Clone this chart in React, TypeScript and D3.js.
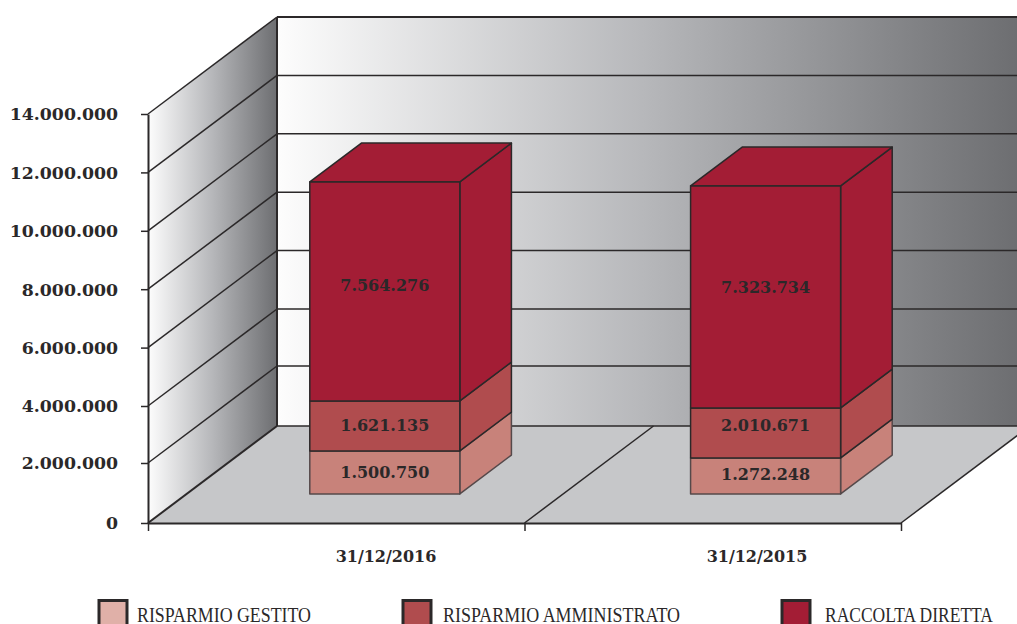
import * as d3 from 'd3';
import { useEffect, useRef } from 'react';

const categories = ['31/12/2016', '31/12/2015'];
const seriesNames = ['RISPARMIO GESTITO', 'RISPARMIO AMMINISTRATO', 'RACCOLTA DIRETTA'];

// bar heights as drawn in the picture (they do not follow the printed labels exactly)
const gestito = [1433000, 1200000];
const amministrato = [1725000, 1712000];
const diretta = [7520000, 7629000];

const gestitoLabels = ['1.500.750', '1.272.248'];
const amministratoLabels = ['1.621.135', '2.010.671'];
const direttaLabels = ['7.564.276', '7.323.734'];

const yTicks = [0, 2000000, 4000000, 6000000, 8000000, 10000000, 12000000, 14000000];

const barColors = ['#c8827a', '#b04c4e', '#a31d35'];
const swatchColors = ['#e0b0a8', '#b04c4e', '#a31d35'];
const ink = '#2b2829';
const numFont = '"DejaVu Serif", serif';
const legendFont = '"Liberation Serif", serif';

export default function App() {
  const ref = useRef<SVGSVGElement>(null);

  useEffect(() => {
    const svg = d3.select(ref.current);
    svg.selectAll('*').remove();

    // the lowest steps are not quite even in the original
    const y = d3.scaleLinear().domain([0, 2000000, 4000000, 14000000]).range([523, 463, 406, 114]);
    const xAxisScale = d3.scaleLinear().domain([0, 2]).range([148, 901]);
    const x = d3.scaleBand().domain(categories).range([150, 923]).paddingInner(0.606).paddingOuter(0.318);

    const depthX = 129, depthY = 97;
    // z = 0 front of the floor, z = 1 back wall
    const project = (px: number, py: number, z: number): [number, number] => [px + depthX * z, py - depthY * z];
    const poly = (pts: [number, number][]) => pts.map(p => p.join(',')).join(' ');

    const defs = svg.append('defs');
    const addGrad = (id: string, x1: number, x2: number) => {
      const g = defs.append('linearGradient').attr('id', id).attr('gradientUnits', 'userSpaceOnUse')
        .attr('x1', x1).attr('x2', x2).attr('y1', 0).attr('y2', 0);
      g.append('stop').attr('offset', '0%').attr('stop-color', '#fdfdfd');
      g.append('stop').attr('offset', '50%').attr('stop-color', '#b6b7ba');
      g.append('stop').attr('offset', '100%').attr('stop-color', '#6d6e71');
    };
    addGrad('backGrad', 277, 1017);
    addGrad('sideGrad', 148, 277);

    const x0 = xAxisScale(0), x2 = xAxisScale(2);
    const yMin = y(0), yMax = y(14000000);

    // walls and floor
    svg.append('polygon')
      .attr('points', poly([project(x0, yMin, 1), project(x2, yMin, 1), project(x2, yMax, 1), project(x0, yMax, 1)]))
      .attr('fill', 'url(#backGrad)');
    svg.append('polygon')
      .attr('points', poly([[x0, yMin], project(x0, yMin, 1), project(x0, yMax, 1), [x0, yMax]]))
      .attr('fill', 'url(#sideGrad)');
    svg.append('polygon')
      .attr('points', poly([[x0, yMin], [x2, yMin], project(x2, yMin, 1), project(x0, yMin, 1)]))
      .attr('fill', '#c6c7c9');

    // gridlines on both walls
    yTicks.forEach(t => {
      const [bx, by] = project(x0, y(t), 1);
      const [ex, ey] = project(x2, y(t), 1);
      svg.append('line').attr('x1', bx).attr('y1', by).attr('x2', ex).attr('y2', ey)
        .attr('stroke', ink).attr('stroke-width', t === 14000000 ? 1.8 : 1.5);
      svg.append('line').attr('x1', x0).attr('y1', y(t)).attr('x2', bx).attr('y2', by)
        .attr('stroke', ink).attr('stroke-width', t === 0 ? 2 : 1.5);
    });
    const [backX, backY] = project(x0, yMin, 1);
    svg.append('line').attr('x1', backX).attr('y1', backY).attr('x2', backX).attr('y2', backY - (yMin - yMax))
      .attr('stroke', ink).attr('stroke-width', 2);

    // floor edges
    [1, 2].forEach(i => {
      const [ex, ey] = project(xAxisScale(i), yMin, 1);
      svg.append('line').attr('x1', xAxisScale(i)).attr('y1', yMin).attr('x2', ex).attr('y2', ey)
        .attr('stroke', ink).attr('stroke-width', 1.5);
    });

    // axes
    const fmt = d3.formatLocale({ decimal: ',', thousands: '.', grouping: [3], currency: ['', ''] }).format(',d');
    const yAxis = svg.append('g').attr('transform', `translate(${x0},0)`)
      .call(d3.axisLeft(y).tickValues(yTicks).tickFormat(d => fmt(d as number)).tickSize(7).tickPadding(23).tickSizeOuter(0));
    yAxis.select('.domain').attr('stroke', ink).attr('stroke-width', 2);
    yAxis.selectAll('.tick line').attr('stroke', ink).attr('stroke-width', 1.5);
    yAxis.selectAll('.tick text')
      .attr('font-family', numFont).attr('font-weight', 700).attr('font-size', 17.3).attr('fill', ink).attr('dy', '0.34em');

    const xAxis = svg.append('g').attr('transform', `translate(0,${yMin})`)
      .call(d3.axisBottom(xAxisScale).tickValues([0, 1, 2]).tickFormat(() => '').tickSize(8).tickSizeOuter(0));
    xAxis.select('.domain').attr('stroke', ink).attr('stroke-width', 2);
    xAxis.selectAll('.tick line').attr('stroke', ink).attr('stroke-width', 1.5);

    // stacked boxes
    const rows = categories.map((c, i) => ({ c, gestito: gestito[i], amministrato: amministrato[i], diretta: diretta[i] }));
    const stacked = d3.stack<any>().keys(['gestito', 'amministrato', 'diretta'])(rows);
    const zFront = 0.3, zBack = 0.7;
    const labelSets = [gestitoLabels, amministratoLabels, direttaLabels];
    const labelNudge = [[0, -2], [-1, -8], [-6, -10]];

    stacked.forEach((layer, s) => {
      layer.forEach((d, i) => {
        const left = x(categories[i])!;
        const right = left + x.bandwidth();
        const bot = y(d[0]), top = y(d[1]);
        const g = svg.append('g').attr('fill', barColors[s])
          .attr('stroke', s === 0 ? '#55494a' : ink).attr('stroke-width', 1.5).attr('stroke-linejoin', 'round');
        g.append('polygon').attr('points', poly([
          project(right, bot, zFront), project(right, bot, zBack), project(right, top, zBack), project(right, top, zFront)]));
        if (s === stacked.length - 1) {
          g.append('polygon').attr('points', poly([
            project(left, top, zFront), project(right, top, zFront), project(right, top, zBack), project(left, top, zBack)]));
        }
        g.append('polygon').attr('points', poly([
          project(left, bot, zFront), project(right, bot, zFront), project(right, top, zFront), project(left, top, zFront)]));
      });
    });

    // value labels go on top of all the boxes
    stacked.forEach((layer, s) => {
      layer.forEach((d, i) => {
        const mid = (y(d[0]) + y(d[1])) / 2;
        const [cx, cy] = project(x(categories[i])! + x.bandwidth() / 2, mid, zFront);
        svg.append('text').attr('x', cx).attr('y', cy + labelNudge[s][i === 0 ? 0 : 1])
          .attr('dy', '0.36em').attr('text-anchor', 'middle')
          .attr('font-family', numFont).attr('font-weight', 700).attr('font-size', 16).attr('fill', ink)
          .text(labelSets[s][i]);
      });
    });

    // category labels
    const catX = [386, 757];
    categories.forEach((c, i) => {
      svg.append('text').attr('x', catX[i]).attr('y', 562).attr('text-anchor', 'middle')
        .attr('font-family', numFont).attr('font-weight', 700).attr('font-size', 16).attr('fill', ink)
        .text(c);
    });

    // legend, cut by the bottom of the picture like the original
    const swatchX = [99, 403, 782];
    const legendX = [137, 443, 825];
    const legendW = [174, 237, 168];
    seriesNames.forEach((name, i) => {
      svg.append('rect').attr('x', swatchX[i]).attr('y', 600.5).attr('width', 28).attr('height', 34)
        .attr('fill', swatchColors[i]).attr('stroke', ink).attr('stroke-width', 3);
      svg.append('text').attr('x', legendX[i]).attr('y', 621.5)
        .attr('font-family', legendFont).attr('font-size', 20).attr('fill', ink)
        .attr('textLength', legendW[i]).attr('lengthAdjust', 'spacingAndGlyphs')
        .text(name);
    });
  }, []);

  return <svg ref={ref} width={1017} height={624} style={{ position: 'absolute', left: 0, top: 0, display: 'block', background: '#fff' }} />;
}
